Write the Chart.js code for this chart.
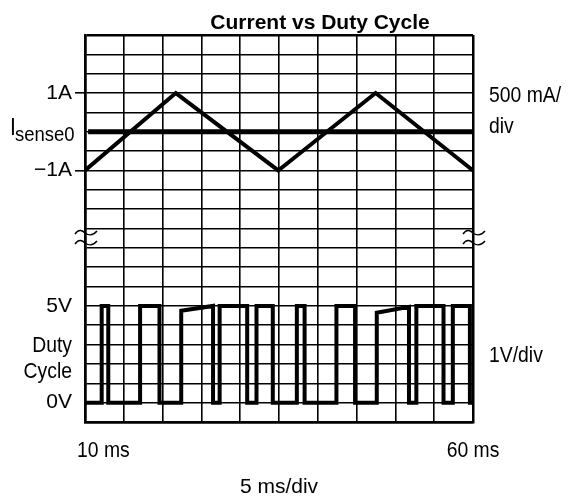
<!DOCTYPE html>
<html>
<head>
<meta charset="UTF-8">
<script src="https://cdn.jsdelivr.net/npm/chart.js@4.4.0/dist/chart.umd.min.js"></script>
<style>
  html, body { margin: 0; padding: 0; background: #fff; }
</style>
</head>
<body>
<canvas id="chart" width="576" height="502"></canvas>
<script>
// time axis (ms), 5 ms/div
const timeMin = 10, timeMax = 60, timeStep = 5;

// inductor current, A (500 mA/div)
const currentTimes = [10, 21.7, 34.9, 47.45, 60];
const currentValues = [-1, 1, -1, 1, -1];

// Isense0 reference level
const senseTimes = [10.4, 60];
const senseValues = [0, 0];

// duty cycle pulses, V (1V/div)
const pulseRise    = [12.15, 17.1, 22.4, 27.35, 32.1, 37.3, 42.4, 47.6, 52.7, 57.4];
const pulseFall    = [13.0, 19.6, 26.5, 30.9, 34.2, 38.3, 44.8, 51.75, 56.2, 59.6];
const pulseTopLeft = [5, 5, 4.75, 5, 5, 5, 5, 4.65, 5, 5];
const pulseTopRight= [5, 5, 5, 5, 5, 5, 5, 4.95, 5, 5];

const currentTicks = { '1': '1A', '-1': '\u22121A' };
const voltTicks = { '0': '0V', '5': '5V' };

// current axis: -7.5..2.5 A, voltage axis: -1..19 V, both 20 divisions
const ampMin = -7.5, ampMax = 2.5, ampStep = 0.5;
const voltMin = -1, voltMax = 19;

const FONT = "'Liberation Sans', Arial, sans-serif";

function ampToVolt(a) {
    return (a - ampMin) / ampStep + voltMin;
}

var current = currentTimes.map((t, i) => ({ x: t, y: currentValues[i] }));
var sense = senseTimes.map((t, i) => ({ x: t, y: senseValues[i] }));

var duty = [{ x: timeMin, y: 0 }];
pulseRise.forEach((r, i) => {
    duty.push({ x: r, y: 0 });
    duty.push({ x: r, y: pulseTopLeft[i] });
    duty.push({ x: pulseFall[i], y: pulseTopRight[i] });
    duty.push({ x: pulseFall[i], y: 0 });
});
duty.push({ x: timeMax, y: 0 });

// narrow text like the datasheet font
function narrowText(ctx, txt, x, y, align, size) {
    var sx = 0.88;
    ctx.save();
    ctx.font = size + 'px ' + FONT;
    var w = ctx.measureText(txt).width * sx;
    var left = align === 'right' ? x - w : align === 'center' ? x - w / 2 : x;
    ctx.translate(left, y);
    ctx.scale(sx, 1);
    ctx.textAlign = 'left';
    ctx.fillText(txt, 0, 0);
    ctx.restore();
}

var textPlugin = {
    id: 'scopeText',
    afterDraw(chart) {
        const ctx = chart.ctx;
        const xs = chart.scales.x;
        const area = chart.chartArea;
        ctx.save();
        ctx.fillStyle = '#000';
        ctx.textBaseline = 'alphabetic';

        ctx.font = "bold 21px 'Liberation Sans', Arial, sans-serif";
        ctx.textAlign = 'center';
        ctx.fillText('Current vs Duty Cycle', 320, 29);

        narrowText(ctx, '500 mA/', 489, 102, 'left', 22);
        narrowText(ctx, 'div', 489, 133, 'left', 22);
        narrowText(ctx, '1V/div', 489, 362, 'left', 22);

        narrowText(ctx, 'Duty', 72, 352, 'right', 22);
        narrowText(ctx, 'Cycle', 72, 378, 'right', 22);

        narrowText(ctx, 'I', 10, 135, 'left', 24);
        narrowText(ctx, 'sense0', 15, 141, 'left', 21);

        narrowText(ctx, '10 ms', xs.getPixelForValue(timeMin) - 8, 457, 'left', 22);
        narrowText(ctx, '60 ms', xs.getPixelForValue(timeMax), 457, 'center', 22);

        // axis break marks
        ctx.strokeStyle = '#000';
        ctx.lineWidth = 1.5;
        [area.left, area.right].forEach(x0 => {
            [233, 243].forEach(y0 => {
                ctx.beginPath();
                ctx.moveTo(x0 - 10, y0 + 1);
                ctx.bezierCurveTo(x0 - 6, y0 - 5, x0 - 2, y0 - 2, x0, y0);
                ctx.bezierCurveTo(x0 + 3, y0 + 2, x0 + 7, y0 + 4, x0 + 12, y0 - 2);
                ctx.stroke();
            });
        });
        ctx.restore();
    }
};

var config = {
    type: 'line',
    data: {
        datasets: [{
            label: 'Current',
            data: current,
            yAxisID: 'y',
            borderColor: '#000',
            borderWidth: 4,
            pointRadius: 0,
            tension: 0
        }, {
            label: 'Isense0',
            data: sense,
            yAxisID: 'y',
            borderColor: '#000',
            borderWidth: 5,
            pointRadius: 0
        }, {
            label: 'Duty Cycle',
            data: duty,
            yAxisID: 'yV',
            borderColor: '#000',
            borderWidth: 4,
            pointRadius: 0,
            tension: 0,
            borderJoinStyle: 'miter'
        }]
    },
    options: {
        responsive: false,
        animation: false,
        layout: { padding: { left: 0, top: 35, right: 103, bottom: 0 } },
        plugins: {
            legend: { display: false },
            title: { display: false },
            tooltip: { enabled: false }
        },
        scales: {
            x: {
                type: 'linear',
                min: timeMin,
                max: timeMax,
                ticks: { stepSize: timeStep, display: false },
                grid: {
                    color: '#000',
                    lineWidth: c => (c.tick.value === timeMin || c.tick.value === timeMax) ? 2.5 : 1.6,
                    drawTicks: false
                },
                border: { color: '#000', width: 2.5 },
                title: {
                    display: true,
                    text: '5 ms/div',
                    color: '#000',
                    font: { family: FONT, size: 21 },
                    padding: 2
                },
                afterFit(scale) { scale.height = 80; }
            },
            y: {
                min: ampMin,
                max: ampMax,
                ticks: {
                    stepSize: ampStep,
                    autoSkip: false,
                    color: '#000',
                    padding: 3,
                    font: { family: FONT, size: 21 },
                    callback: function (v) {
                        if (currentTicks[v] !== undefined) return currentTicks[v];
                        var volts = Math.round(ampToVolt(v) * 100) / 100;
                        if (voltTicks[volts] !== undefined) return voltTicks[volts];
                        return '';
                    }
                },
                grid: {
                    color: '#000',
                    lineWidth: c => (c.tick.value === ampMin || c.tick.value === ampMax) ? 2.5 : 1.6,
                    tickLength: 10,
                    tickColor: c => currentTicks[c.tick.value] !== undefined ? '#000' : 'rgba(0,0,0,0)'
                },
                border: { color: '#000', width: 2.5 },
                afterFit(scale) { scale.width = 85; }
            },
            yV: {
                min: voltMin,
                max: voltMax,
                display: false
            }
        }
    },
    plugins: [textPlugin]
};

new Chart(document.getElementById('chart').getContext('2d'), config);
</script>
</body>
</html>
